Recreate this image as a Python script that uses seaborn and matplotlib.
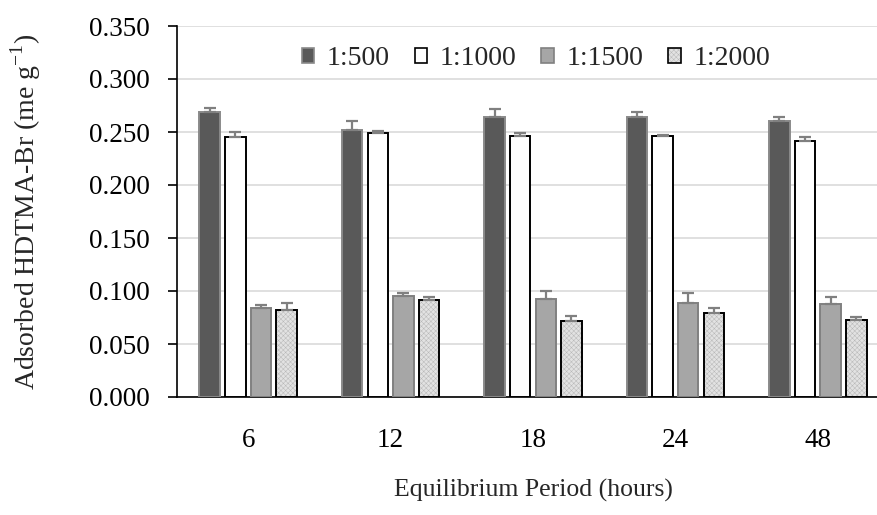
import numpy as np
import pandas as pd
import matplotlib
matplotlib.use("Agg")
import matplotlib.pyplot as plt
import seaborn as sns
from matplotlib.patches import Patch, Rectangle

periods = ["6", "12", "18", "24", "48"]
ratios = ["1:500", "1:1000", "1:1500", "1:2000"]
vals = {
    "1:500":  [0.2686, 0.2519, 0.2644, 0.2644, 0.2607],
    "1:1000": [0.2450, 0.2493, 0.2459, 0.2459, 0.2418],
    "1:1500": [0.0837, 0.0953, 0.0927, 0.0884, 0.0874],
    "1:2000": [0.0820, 0.0915, 0.0714, 0.0790, 0.0723],
}
errs = {
    "1:500":  [0.0038, 0.0088, 0.0070, 0.0040, 0.0031],
    "1:1000": [0.0050, 0.0019, 0.0029, 0.0013, 0.0032],
    "1:1500": [0.0028, 0.0031, 0.0076, 0.0094, 0.0066],
    "1:2000": [0.0069, 0.0028, 0.0050, 0.0050, 0.0035],
}

rows = []
for r in ratios:
    for p, v, e in zip(periods, vals[r], errs[r]):
        rows.append({"period": p, "ratio": r, "value": v, "err": e})
df = pd.DataFrame(rows)

sns.set_style("white")
plt.rcParams["font.family"] = ["Liberation Serif", "DejaVu Serif"]
plt.rcParams["mathtext.fontset"] = "custom"
plt.rcParams["mathtext.rm"] = "Liberation Serif"
plt.rcParams["hatch.linewidth"] = 0.35

HATCH_COLOR = "#b8b8b8"

fig = plt.figure(figsize=(8.77, 5.15), dpi=100)
ax = fig.add_axes([177/877, 1-397/515, 712/877, 371/515])

faces = {"1:500": "#595959", "1:1000": "#ffffff", "1:1500": "#a6a6a6", "1:2000": "#e2e2e2"}
edges = {"1:500": "#8a8a8a", "1:1000": "#000000", "1:1500": "#808080", "1:2000": "#000000"}
HATCH = "xxxxxxx"

sns.barplot(data=df, x="period", y="value", hue="ratio", order=periods,
            hue_order=ratios, palette=faces, width=0.72, gap=0.2,
            errorbar=None, ax=ax, legend=False, zorder=3)

for cont, r in zip(ax.containers, ratios):
    for patch, e in zip(cont.patches, errs[r]):
        patch.set_edgecolor(edges[r])
        patch.set_linewidth(1.4)
        if r == "1:2000":
            # light hatch drawn with the patch edge colour, black outline on top
            patch.set_hatch(HATCH)
            patch.set_edgecolor(HATCH_COLOR)
            patch.set_linewidth(0)
            ax.add_patch(Rectangle((patch.get_x(), patch.get_y()),
                                   patch.get_width(), patch.get_height(),
                                   fill=False, edgecolor="#000000",
                                   linewidth=1.4, zorder=3.5))
        cx = patch.get_x() + patch.get_width() / 2
        top = patch.get_height()
        ax.errorbar(cx, top, yerr=[[0], [e]], fmt="none", ecolor="#808080",
                    elinewidth=1.6, capsize=4.5, capthick=1.6, zorder=4)

ax.set_xlim(-0.5, 4.5)
ax.set_ylim(0, 0.35)
ticks = np.arange(0, 0.351, 0.05)
ax.set_yticks(ticks)
ax.set_yticklabels([f"{t:.3f}" for t in ticks])
ax.grid(axis="y", color="#dadada", linewidth=1.2, zorder=0)
ax.set_axisbelow(True)
for s in ["right", "top"]:
    ax.spines[s].set_visible(False)
for s in ["bottom", "left"]:
    ax.spines[s].set_color("#000000")
    ax.spines[s].set_linewidth(1.2)
ax.tick_params(axis="both", labelsize=19.5, colors="#000000")
ax.tick_params(axis="x", length=0, pad=22)
ax.tick_params(axis="y", direction="out", length=6.5, width=1.2, pad=13, left=True)

ax.set_xlabel("Equilibrium Period (hours)", fontsize=18.5)
ax.set_ylabel("Adsorbed HDTMA-Br (me g$^{-1}$)", fontsize=20)
ax.xaxis.set_label_coords(0.5, -0.253)
ax.xaxis.label.set_va("center")
ax.yaxis.set_label_coords(-0.212, 0.5)
ax.yaxis.label.set_va("center")

handles = []
for r in ratios:
    if r == "1:2000":
        h = (Patch(facecolor=faces[r], edgecolor=HATCH_COLOR, linewidth=0, hatch=HATCH),
             Patch(facecolor="none", edgecolor="#000000", linewidth=1.2))
    else:
        h = Patch(facecolor=faces[r], edgecolor=edges[r], linewidth=1.2)
    handles.append(h)
ax.legend(handles=handles, labels=ratios, loc="center", bbox_to_anchor=(0.504, 0.912),
          ncol=4, frameon=False, fontsize=20, handlelength=0.45, handleheight=0.45,
          handletextpad=0.45, columnspacing=0.9, borderaxespad=0, borderpad=0)

fig.savefig("out.png", dpi=100, facecolor="white")
